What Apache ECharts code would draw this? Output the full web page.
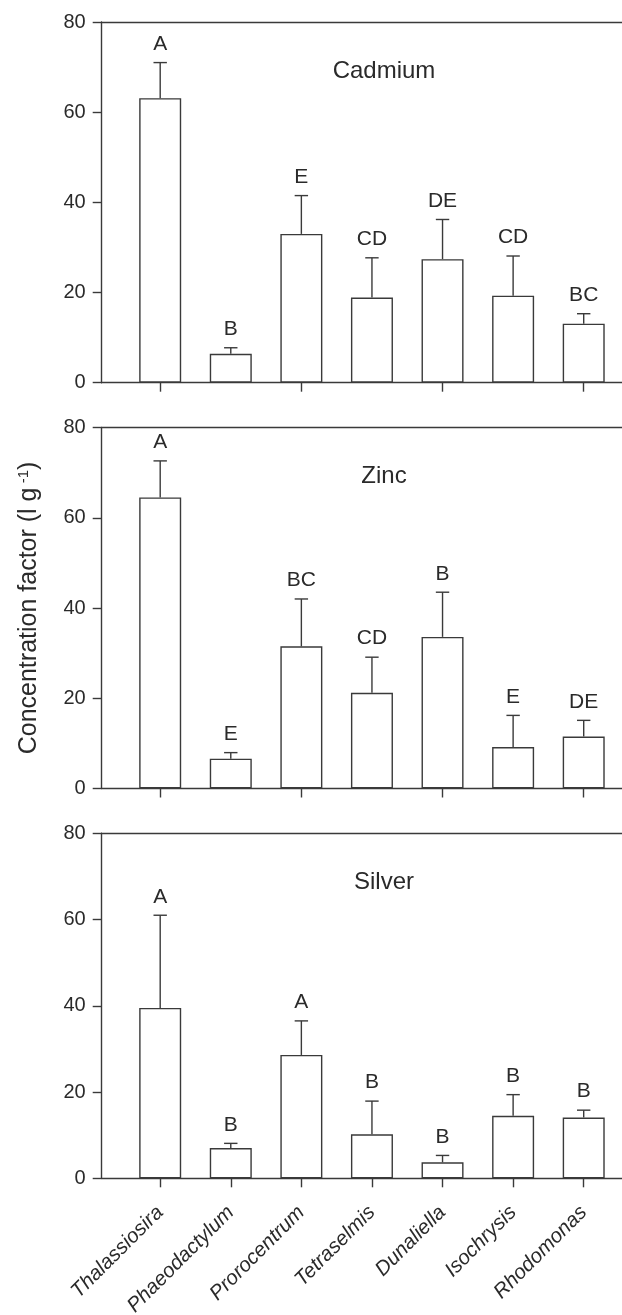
<!DOCTYPE html>
<html><head><meta charset="utf-8">
<script src="https://cdn.jsdelivr.net/npm/echarts@6/dist/echarts.min.js"></script>
<style>html,body{margin:0;padding:0;background:#fff}#c{width:622px;height:1315px}</style>
</head><body><div id="c"></div>
<script>
// ---- data ----
const categories = ['Thalassiosira','Phaeodactylum','Prorocentrum','Tetraselmis','Dunaliella','Isochrysis','Rhodomonas'];
const panelTitles = ['Cadmium','Zinc','Silver'];
const cadmiumMean = [63.1, 6.4, 33.0, 18.9, 27.4, 19.3, 13.1];
const cadmiumErr  = [7.9, 1.35, 8.5, 8.8, 8.8, 8.8, 2.2];
const cadmiumLetters = ['A','B','E','CD','DE','CD','BC'];
const zincMean = [64.5, 6.6, 31.5, 21.2, 33.6, 9.2, 11.5];
const zincErr  = [8.1, 1.35, 10.5, 7.9, 9.9, 7.0, 3.6];
const zincLetters = ['A','E','BC','CD','B','E','DE'];
const silverMean = [39.5, 7.0, 28.6, 10.2, 3.7, 14.5, 14.1];
const silverErr  = [21.5, 1.1, 7.9, 7.7, 1.6, 4.9, 1.7];
const silverLetters = ['A','B','A','B','B','B','B'];
const yMin = 0, yMax = 80, yStep = 20;
const yAxisTitle = 'Concentration factor (l g';
const yAxisTitleSup = '-1';

// ---- layout / style ----
const FONT = '"Liberation Sans", Arial, Helvetica, sans-serif';
const INK = '#2a2a2a';
const LINE = '#3a3a3a';
const LW = 1.4;
const AX_LEFT = 101.7, CAT_LEFT = 124.9, CAT_W = 494.1;
const layout = [
  {top: 22, height: 360.7},
  {top: 427.5, height: 361},
  {top: 833.3, height: 345}
];
const panels = [
  {title: panelTitles[0], mean: cadmiumMean, err: cadmiumErr, letters: cadmiumLetters},
  {title: panelTitles[1], mean: zincMean, err: zincErr, letters: zincLetters},
  {title: panelTitles[2], mean: silverMean, err: silverErr, letters: silverLetters}
];

const grid = [], xAxis = [], yAxis = [], series = [], title = [];
panels.forEach((p, k) => {
  const L = layout[k];
  const gF = grid.length;
  grid.push({left: AX_LEFT, right: -30, top: L.top, height: L.height, outerBoundsMode: 'none', containLabel: false});
  const gD = grid.length;
  grid.push({left: CAT_LEFT, width: CAT_W, top: L.top, height: L.height, outerBoundsMode: 'none', containLabel: false});

  const frameX = (pos) => ({
    gridIndex: gF, type: 'value', min: 0, max: 1, position: pos,
    axisLine: {show: true, lineStyle: {color: LINE, width: LW}},
    axisTick: {show: false}, axisLabel: {show: false}, splitLine: {show: false}
  });
  xAxis.push(frameX('bottom'));
  xAxis.push(frameX('top'));
  const yF = {
    gridIndex: gF, type: 'value', min: yMin, max: yMax, interval: yStep,
    axisLine: {show: true, lineStyle: {color: LINE, width: LW}},
    axisTick: {show: true, length: 9, lineStyle: {color: LINE, width: LW}},
    axisLabel: {margin: 16, fontSize: 20, color: INK, fontFamily: FONT},
    splitLine: {show: false}
  };
  if (k === 1) {
    Object.assign(yF, {
      name: '{a|' + yAxisTitle + '}{s| ' + yAxisTitleSup + '}{a|)}',
      nameLocation: 'middle', nameGap: 60, nameRotate: 90,
      nameTextStyle: {
        color: INK, fontFamily: FONT, fontSize: 25,
        rich: {
          a: {fontSize: 25, color: INK, fontFamily: FONT},
          s: {fontSize: 15, color: INK, fontFamily: FONT, verticalAlign: 'top'}
        }
      }
    });
  }
  yAxis.push(yF);

  const xD = xAxis.length;
  xAxis.push({
    gridIndex: gD, type: 'category', data: categories, boundaryGap: true,
    axisLine: {show: false},
    axisTick: {show: true, alignWithLabel: true, length: 9, lineStyle: {color: LINE, width: LW}},
    axisLabel: k === 2
      ? {show: true, rotate: 45, margin: 31, fontSize: 20.5, fontStyle: 'italic', color: INK, fontFamily: FONT, interval: 0}
      : {show: false},
    splitLine: {show: false}
  });
  const yD = yAxis.length;
  yAxis.push({gridIndex: gD, type: 'value', min: yMin, max: yMax, show: false});

  series.push({
    type: 'bar', xAxisIndex: xD, yAxisIndex: yD, data: p.mean, barWidth: 42,
    itemStyle: {color: '#ffffff', borderColor: LINE, borderWidth: LW},
    silent: true, animation: false
  });
  const letters = p.letters;
  series.push({
    type: 'custom', xAxisIndex: xD, yAxisIndex: yD, animation: false, silent: true,
    data: p.mean.map((v, i) => [i, v, p.err[i]]),
    encode: {x: 0, y: 1},
    renderItem: (params, api) => {
      const i = api.value(0), m = api.value(1), e = api.value(2);
      const b = api.coord([i, m]);
      const t = api.coord([i, m + e]);
      const cap = 6.7;
      const st = {stroke: LINE, lineWidth: LW};
      return {type: 'group', children: [
        {type: 'line', shape: {x1: b[0], y1: b[1], x2: t[0], y2: t[1]}, style: st},
        {type: 'line', shape: {x1: t[0] - cap, y1: t[1], x2: t[0] + cap, y2: t[1]}, style: st},
        {type: 'text', style: {text: letters[i], x: t[0], y: t[1] - 8, align: 'center', verticalAlign: 'bottom',
          fontSize: 21, fontFamily: FONT, fill: INK}}
      ]};
    }
  });

  title.push({
    text: p.title, left: 379, top: L.top + 32, textAlign: 'center',
    textStyle: {fontSize: 24, fontWeight: 'normal', color: INK, fontFamily: FONT}
  });
});

const chart = echarts.init(document.getElementById('c'), null, {renderer: 'canvas'});
chart.setOption({animation: false, backgroundColor: '#ffffff', title, grid, xAxis, yAxis, series});
</script>
</body></html>
